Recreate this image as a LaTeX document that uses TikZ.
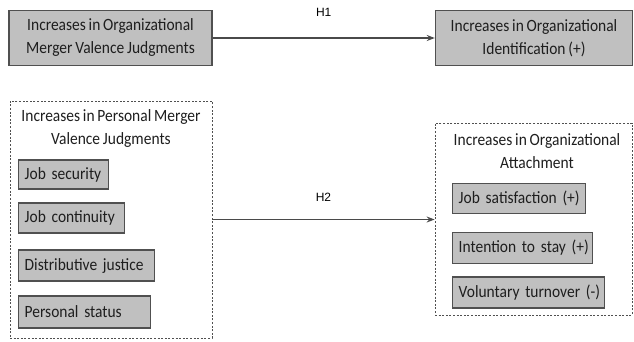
\documentclass[tikz,border=0pt]{standalone}
\usepackage{fontspec}
\setmainfont{Carlito}[FakeStretch=0.9, WordSpace=0.8]
\newfontfamily\hypfont{Liberation Sans}
\usetikzlibrary{arrows.meta}
\definecolor{boxfill}{HTML}{C0C0C0}
\definecolor{boxline}{HTML}{505050}
\definecolor{inkgray}{HTML}{1E1E1E}
\definecolor{arrowgray}{HTML}{4A4A4A}
\begin{document}
\begin{tikzpicture}[x=1pt,y=-1pt,
  bodytext/.style={font=\fontsize{17.2}{23}\selectfont, text=inkgray},
  solidbox/.style={draw=boxline, fill=boxfill, line width=1.4pt, inner sep=0pt, align=center, bodytext},
  itembox/.style={draw=boxline, fill=boxfill, line width=1.4pt, inner ysep=0pt, inner xsep=6pt, anchor=west, align=left, bodytext},
  groupbox/.style={draw=boxline, line width=0.8pt, dash pattern=on 2pt off 1.6pt, inner sep=0pt},
  titletext/.style={align=center, inner sep=0pt, bodytext},
  link/.style={draw=arrowgray, line width=1.5pt, -{Stealth[length=8pt,width=6pt]}},
  hyp/.style={font=\hypfont\fontsize{12}{14}\selectfont, text=black, inner sep=0pt}
]
\useasboundingbox (0,0) rectangle (634,341);

% top row
\node[solidbox, minimum width=203pt, minimum height=55pt] (omv) at (110.5,38)
  {Increases in Organizational\\Merger Valence Judgments};
\node[solidbox, minimum width=197pt, minimum height=55pt] (oid) at (534,38)
  {Increases in Organizational\\Identification (+)};

% personal valence group
\node[groupbox, minimum width=202pt, minimum height=237pt] (pmv) at (111,219.5) {};
\node[titletext] (pmvt) at (111,129) {Increases in Personal Merger\\Valence Judgments};
\node[itembox, text width=78pt, minimum height=29pt] (js) at (18,174.5) {\mbox{Job security}};
\node[itembox, text width=94pt, minimum height=30pt] (jc) at (18,218) {\mbox{Job continuity}};
\node[itembox, text width=124pt, minimum height=31pt] (dj) at (18,265.5) {\mbox{Distributive justice}};
\node[itembox, text width=120pt, minimum height=32pt] (ps) at (18,312) {\mbox{Personal status}};

% attachment group
\node[groupbox, minimum width=197pt, minimum height=192pt] (oa) at (533.5,219) {};
\node[titletext] (oat) at (537,151) {Increases in Organizational\\Attachment};
\node[itembox, text width=121pt, minimum height=30pt] (sat) at (452,198.5) {\mbox{Job satisfaction (+)}};
\node[itembox, text width=128pt, minimum height=31pt] (its) at (452,248) {\mbox{Intention to stay (+)}};
\node[itembox, text width=140pt, minimum height=31pt] (vt) at (452,292.5) {\mbox{Voluntary turnover (-)}};

% hypothesised links
\draw[link] (omv) -- (oid) node[hyp, midway, above=21pt] (h1) {H1};
\draw[link] (pmv.east) -- (pmv.east -| oa.west) node[hyp, midway, above=17pt] (h2) {H2};
\end{tikzpicture}
\end{document}
